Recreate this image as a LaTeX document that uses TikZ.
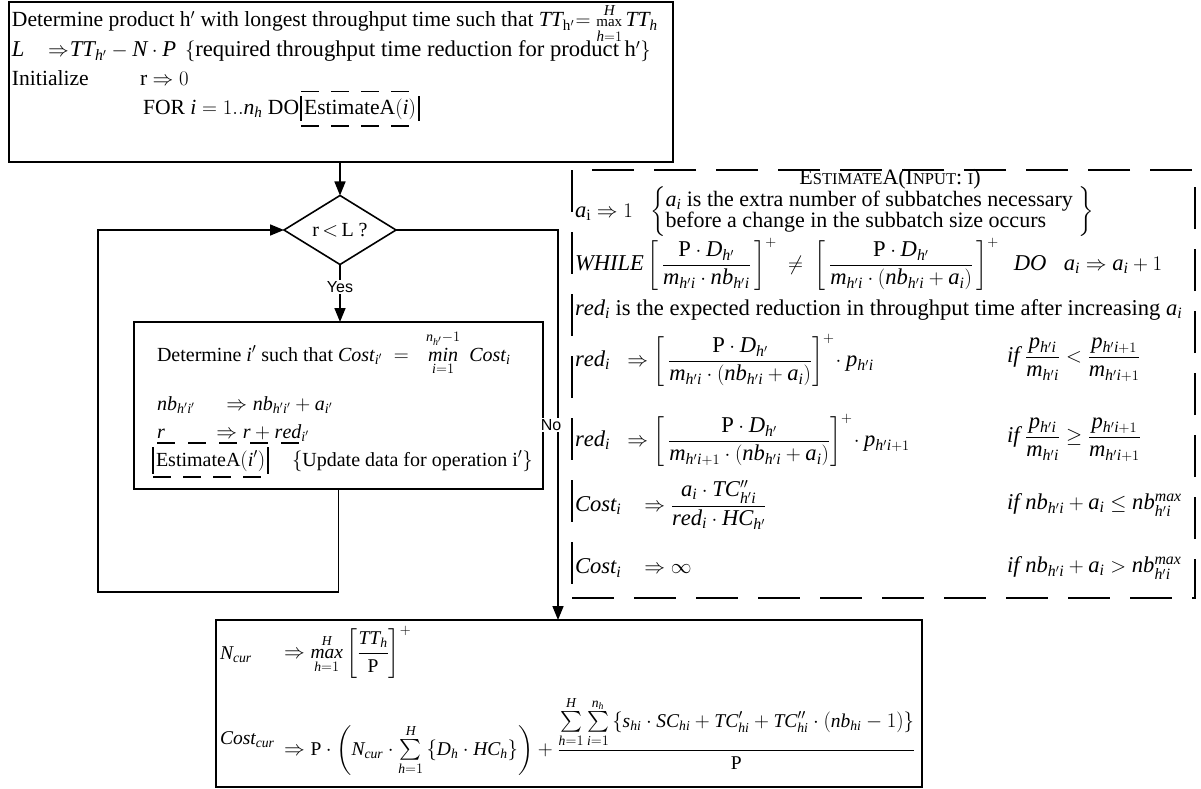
\documentclass[tikz,border=0pt]{standalone}
\usepackage{exscale}
\usepackage{fontspec}
\setmainfont{Liberation Serif}[NFSSFamily=lsrf]
\newfontfamily\sansf{Liberation Sans}
\DeclareSymbolFont{tletters}{TU}{lsrf}{m}{it}
\DeclareSymbolFont{operators}{TU}{lsrf}{m}{n}
\DeclareMathAlphabet{\mathit}{TU}{lsrf}{m}{it}
\makeatletter
\count@=`a
\loop \Umathcode\count@=7 \symtletters\count@ \ifnum\count@<`z \advance\count@\@ne \repeat
\count@=`A
\loop \Umathcode\count@=7 \symtletters\count@ \ifnum\count@<`Z \advance\count@\@ne \repeat
\makeatother
\usetikzlibrary{shapes.geometric,arrows.meta}
\newcommand\fsT{\fontsize{21.6}{26}\selectfont}
\newcommand\fsTb{\fontsize{22.6}{26}\selectfont}
\newcommand\fsD{\fontsize{22.6}{26}\selectfont}
\newcommand\fsI{\fontsize{20}{24}\selectfont}
\newcommand\fsBt{\fontsize{19.5}{23}\selectfont}
\newcommand\smallmax{\mathop{\mbox{\fontsize{15}{18}\selectfont max}}\limits}
\begin{document}
\begin{tikzpicture}[x=1pt,y=-1pt,
  every node/.style={inner sep=0pt, outer sep=0pt},
  box/.style={draw, line width=1.6pt, anchor=north west},
  dbox/.style={draw, line width=1.8pt, dash pattern=on 42pt off 20pt, anchor=north west},
  t/.style={anchor=base west, font=\fsT},
  m/.style={anchor=west, font=\fsD},
  lbl/.style={font=\sansf\fontsize{16}{18}\selectfont, fill=white, inner sep=1.5pt},
  conn/.style={line width=1.6pt},
  arr/.style={conn, -{Triangle[length=14pt,width=11pt]}},
  dl/.style={line width=1.6pt, dash pattern=on 18pt off 12pt},
  bar/.style={line width=1.6pt}
]
\useasboundingbox (0,0) rectangle (1201,789);
% boxes
\node[box, minimum width=664pt, minimum height=160pt] (top) at (9,2) {};
\node[draw, diamond, line width=1.6pt, minimum width=112pt, minimum height=44pt,
      font=\fsI] (dia) at (340,230) {r\,$<$\,L ?};
\node[box, minimum width=409pt, minimum height=167pt] (inner) at (134,322) {};
\node[box, minimum width=706pt, minimum height=167pt] (bot) at (216,620) {};
\node[dbox, minimum width=623pt, minimum height=428pt] (est) at (572,170) {};
% top box text
\node[t] (l1) at (12,27) {Determine product h$'$ with longest throughput time such that $TT_{\mathrm{h}'}\mkern1mu{=}\mkern2mu\smallmax_{h=1}^{H} TT_h$};
\node[t, font=\fsTb] (l2a) at (12,57) {$L$};
\node[t, font=\fsTb] (l2b) at (48,57) {${\Rightarrow}\mkern1mu TT_{h'} - N\cdot P$};
\node[t, font=\fsTb] (l2c) at (185,57) {$\{$required throughput time reduction for product h$'\}$};
\node[t] (l3a) at (12,86) {Initialize};
\node[t] (l3b) at (140,86) {r $\Rightarrow 0$};
\node[t] (l4a) at (143,114) {FOR $i = 1..n_h$ DO};
\node[t, inner xsep=3pt, inner ysep=7pt] (e1) at ([xshift=2pt]l4a.base east) {EstimateA$(i)$};
\draw[dl] (e1.north west) -- (e1.north east);
\draw[dl] (e1.south west) -- (e1.south east);
\draw[bar] ([yshift=-5pt]e1.north west) -- ([yshift=5pt]e1.south west);
\draw[bar] ([yshift=-5pt]e1.north east) -- ([yshift=5pt]e1.south east);
% inner box text
\begin{scope}[t/.append style={font=\fsI}]
\node[t] (i1) at (157,361) {Determine $i'$ such that $Cost_{i'} \;=\;\; \mathop{\mathit{min}}\limits_{i=1}^{n_{h'}-1}\; Cost_i$};
\node[t] (i2) at (157,410) {$nb_{h'i'}\quad\;\Rightarrow nb_{h'i'} + a_{i'}$};
\node[t] (i3) at (157,438) {$r\qquad\;\Rightarrow r + red_{i'}$};
\draw[dl, dash pattern=on 18pt off 13pt] ([yshift=-5pt]i3.base west) -- ([yshift=-5pt]i3.base east);
\node[t, inner xsep=3pt, inner ysep=6pt] (e2) at (153,466) {EstimateA$(i')$};
\node[t] (i4) at (292,466) {$\{$Update data for operation i$'\}$};
\end{scope}
\draw[dl] (e2.south west) -- (e2.south east);
\draw[bar] ([yshift=-3pt]e2.north west) -- ([yshift=3pt]e2.south west);
\draw[bar] ([yshift=-3pt]e2.north east) -- ([yshift=3pt]e2.south east);
% connectors
\draw[arr] (dia.north |- top.south) -- (dia.north);
\node[lbl] (yes) at (340,287) {Yes};
\draw[conn] (dia.south) -- (yes.north);
\draw[arr] (yes.south) -- (yes.south |- inner.north);
\coordinate (c1) at (558,230);
\draw[arr] (dia.east) -- (c1) -- (c1 |- bot.north);
\node[lbl] (no) at (551,425) {No};
\coordinate (c2) at (98,592);
\draw[arr] (inner.south) -- (inner.south |- c2) -- (c2) -- (c2 |- dia.west) -- (dia.west);
% dashed box text
\node[anchor=base] (ttl) at (890,184)
  {{\fontsize{22}{26}\selectfont E}{\fontsize{16.5}{19}\selectfont STIMATE}{\fontsize{22}{26}\selectfont A(I}{\fontsize{16.5}{19}\selectfont NPUT}{\fontsize{22}{26}\selectfont:~}{\fontsize{16.5}{19}\selectfont I}{\fontsize{22}{26}\selectfont)}};
\node[m] (a1) at (575,212) {$a_{\mathrm{i}} \Rightarrow 1$};
\node[m, font=\fontsize{22}{21}\selectfont] (a2) at (650,212) {\def\arraystretch{0.95}$\left\{\begin{array}{@{}l@{}} a_i\mbox{ is the extra number of subbatches necessary}\\ \mbox{before a change in the subbatch size occurs}\end{array}\;\right\}$};
\node[m] (w) at (575,264) {$\displaystyle \mathit{WHILE}\left[\,\frac{\mathrm{P}\cdot D_{h'}}{m_{h'i}\cdot nb_{h'i}}\,\right]^{+} \;\neq\; \left[\,\frac{\mathrm{P}\cdot D_{h'}}{m_{h'i}\cdot\left(nb_{h'i}+a_i\right)}\,\right]^{+}\;\; \mathit{DO}\;\;\; a_i \Rightarrow a_i + 1$};
\node[t, font=\fsD] (rd) at (575,315) {$red_i$ is the expected reduction in throughput time after increasing $a_i$};
\node[m] (r1) at (575,360) {$\displaystyle red_i\;\;\Rightarrow\left[\,\frac{\mathrm{P}\cdot D_{h'}}{m_{h'i}\cdot\left(nb_{h'i}+a_i\right)}\right]^{+}\!\cdot p_{h'i}$};
\node[m] (r1c) at (1007,360) {$\displaystyle \mathit{if}\ \frac{p_{h'i}}{m_{h'i}} < \frac{p_{h'i+1}}{m_{h'i+1}}$};
\node[m] (r2) at (575,440) {$\displaystyle red_i\;\;\Rightarrow\left[\,\frac{\mathrm{P}\cdot D_{h'}}{m_{h'i+1}\cdot\left(nb_{h'i}+a_i\right)}\right]^{+}\!\cdot p_{h'i+1}$};
\node[m] (r2c) at (1007,440) {$\displaystyle \mathit{if}\ \frac{p_{h'i}}{m_{h'i}} \geq \frac{p_{h'i+1}}{m_{h'i+1}}$};
\node[m] (c1t) at (575,505) {$\displaystyle Cost_i\;\;\;\Rightarrow \frac{a_i\cdot TC''_{h'i}}{red_i\cdot HC_{h'}}$};
\node[m] (c1c) at (1007,505) {$\mathit{if}\; nb_{h'i}+a_i \leq nb_{h'i}^{\mathit{max}}$};
\node[m] (c2t) at (575,568) {$Cost_i\;\;\;\Rightarrow \infty$};
\node[m] (c2c) at (1007,568) {$\mathit{if}\; nb_{h'i}+a_i > nb_{h'i}^{\mathit{max}}$};
% bottom box text
\begin{scope}[m/.append style={font=\fsBt}]
\node[m] (b1) at (220,655) {$N_{cur}$};
\node[m] (b1r) at (284,652) {$\displaystyle \Rightarrow \mathop{\mathit{max}}\limits_{h=1}^{H}\left[\frac{TT_h}{\mathrm{P}}\right]^{+}$};
\node[m] (b2) at (220,740) {$Cost_{cur}$};
\node[m] (b2r) at (284,736) {$\displaystyle \Rightarrow \mathrm{P}\cdot\left(N_{cur}\cdot\textstyle\sum\limits_{h=1}^{H}\left\{D_h\cdot HC_h\right\}\right) + \frac{\sum\limits_{h=1}^{H}\sum\limits_{i=1}^{n_h}\left\{s_{hi}\cdot SC_{hi}+TC'_{hi}+TC''_{hi}\cdot\left(nb_{hi}-1\right)\right\}}{\mathrm{P}}$};
\end{scope}
\end{tikzpicture}
\end{document}
